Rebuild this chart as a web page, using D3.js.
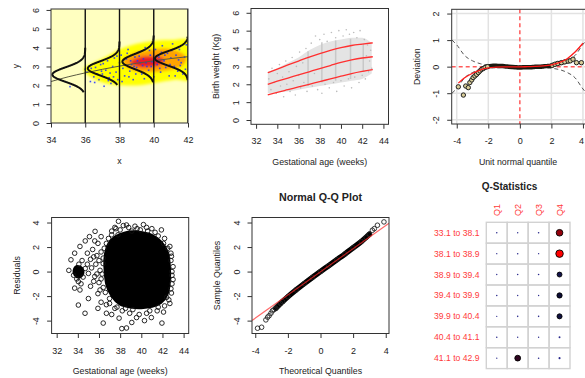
<!DOCTYPE html>
<html>
<head>
<meta charset="utf-8">
<script src="https://cdn.jsdelivr.net/npm/d3@7"></script>
<style>
  body { margin: 0; background: #fff; }
  text { font-family: "Liberation Sans", Arial, sans-serif; }
</style>
</head>
<body>
<svg id="chart" width="585" height="378"></svg>
<script>
// ---------- panel 1: conditional densities over the heat cloud
const p1Points = [[35.11,1.93],[36.0,2.85],[36.1,2.7],[36.3,2.2],[36.5,2.45],[36.6,2.95],[36.8,2.3],[36.9,3.1],
  [37.0,2.6],[37.1,1.95],[37.2,2.8],[37.3,3.3],[37.4,2.4],[37.5,2.1],[37.6,3.0],[37.7,3.45],[37.8,2.7],[37.9,2.3],
  [38.0,3.2],[38.1,3.6],[38.2,2.9],[38.3,2.5],[38.4,3.4],[38.5,3.9],[38.6,2.75],[38.7,3.1],[38.8,2.3],[38.9,3.5],
  [39.0,2.95],[39.1,3.75],[39.2,3.2],[39.3,2.6],[39.4,3.4],[39.5,4.0],[39.6,3.0],[39.7,2.8],[39.8,3.6],[39.9,3.25],
  [40.0,2.45],[40.1,3.9],[40.2,3.1],[40.3,3.5],[40.4,2.7],[40.5,4.1],[40.6,3.3],[40.7,2.95],[40.8,3.7],[40.9,2.5],
  [41.0,3.45],[41.1,4.2],[41.2,3.0],[41.3,3.6],[41.4,2.75],[41.5,3.9],[41.6,3.2],[41.7,2.6],[41.8,3.5],[41.9,4.15],
  [39.05,3.3],[39.35,3.05],[38.25,3.35],[37.45,2.65],[36.7,2.6],[38.55,2.45],[40.45,3.75],[41.45,3.35],[39.85,3.0],
  [36.35,2.9],[36.55,2.15],[37.05,3.15],[37.35,2.25],[37.85,3.55],[38.15,2.2],[38.45,3.7],[38.95,2.6],[39.15,3.55],
  [39.45,2.35],[39.75,3.85],[40.05,3.4],[40.35,2.9],[40.65,3.6],[40.95,3.1],[41.25,2.5],[41.55,3.05],[41.85,2.85],
  [39.55,3.2],[38.85,3.0],[40.25,3.25],[37.65,2.45],[36.95,2.75],[38.65,3.3],[41.05,3.85]];
const p1CloudYellow = [[35.9,2.85],[36.4,3.15],[37.1,3.45],[38.0,3.9],[39.0,4.2],[40.0,4.35],[41.0,4.4],[42.2,4.3],
  [42.3,2.4],[41.2,2.3],[40.2,2.15],[39.2,2.0],[38.2,2.0],[37.2,2.1],[36.4,2.4]];
const p1CloudOrange = [[38.2,3.3],[38.7,3.65],[39.5,3.85],[40.5,3.95],[41.3,3.85],[41.9,3.5],[41.6,3.0],[40.5,2.75],[39.3,2.7],[38.5,2.9]];
const p1CloudRed = [[38.6,3.2],[39.2,3.5],[40.0,3.55],[40.6,3.4],[40.3,3.05],[39.3,2.95]];
const p1MeanX = [34, 35, 36, 37, 38, 39, 40, 41, 42];
const p1MeanY = [2.2, 2.45, 2.66, 2.85, 3.02, 3.17, 3.3, 3.42, 3.52];
const densBase = [36, 38, 40, 42];
const densPeakX = [34.08, 36.15, 38.17, 40.07];
const densMu = [2.57, 2.9, 3.26, 3.43];
const densSd = [0.38, 0.38, 0.4, 0.38];
const densTop = [4.0, 4.32, 4.64, 4.58];
const densBottom = [1.63, 2.02, 2.16, 2.28];

// ---------- panel 2: birth weight centiles
const centX = [33.1, 34, 35, 36, 37, 38, 39, 40, 41, 42, 43];
const centUpper = [2.65, 2.85, 3.08, 3.3, 3.52, 3.72, 3.9, 4.05, 4.17, 4.25, 4.32];
const centMiddle = [2.0, 2.17, 2.35, 2.52, 2.7, 2.88, 3.05, 3.22, 3.36, 3.47, 3.54];
const centLower = [1.4, 1.55, 1.7, 1.85, 2.0, 2.15, 2.3, 2.45, 2.6, 2.72, 2.82];
const cloudX = [33.1, 34, 35, 36, 37, 38, 39, 40, 41, 42, 42.9];
const cloudLo = [1.5, 1.55, 1.6, 1.7, 1.8, 1.9, 2.0, 2.1, 2.2, 2.3, 2.6];
const cloudHi = [2.7, 2.9, 3.2, 3.5, 3.9, 4.2, 4.4, 4.5, 4.6, 4.6, 4.3];
const stripeWeeks = [36.9, 38.2, 39.5, 40.9, 42.1];
const p2Points = [[33.2,2.3],[33.4,1.7],[33.5,2.9],[33.7,2.1],[33.9,1.5],[34.0,2.6],[34.2,3.1],[34.3,1.9],[34.5,2.4],
  [34.6,1.3],[34.8,3.3],[34.9,2.0],[35.1,2.7],[35.2,1.6],[35.4,3.5],[35.5,2.2],[35.7,1.4],[35.8,3.0],[36.0,2.5],
  [36.1,3.8],[36.2,1.8],[36.4,3.2],[36.5,2.1],[36.7,4.0],[36.8,1.6],[37.0,3.5],[37.2,4.3],[37.3,1.9],[37.5,2.6],
  [37.6,4.7],[37.8,1.7],[38.0,4.5],[38.2,1.5],[38.4,4.8],[38.5,2.0],[38.7,4.4],[38.9,1.8],[39.1,4.9],[39.3,2.1],
  [39.5,4.6],[39.6,1.6],[39.8,5.0],[40.0,2.2],[40.2,4.7],[40.3,1.9],[40.5,5.05],[40.7,2.3],[40.8,4.8],[41.0,1.8],
  [41.2,4.9],[41.3,2.4],[41.5,4.6],[41.7,2.1],[41.8,5.0],[42.0,2.5],[42.2,4.5],[42.3,2.3],[42.5,4.2],[42.6,2.7],
  [42.8,3.9],[42.9,2.9],[42.7,3.3],[42.4,3.6]];

// ---------- panel 3: worm plot
const wormX = [-3.9,-3.58,-3.43,-3.27,-3.17,-3.05,-2.96,-2.85,-2.74,-2.63,-2.53,-2.42,-2.32,-2.2,-2.05,-1.9,-1.7,-1.5,
  -1.3,-1.1,-0.9,-0.7,-0.5,-0.3,-0.1,0.1,0.3,0.5,0.7,0.9,1.1,1.3,1.5,1.7,1.9,2.05,2.22,2.4,2.64,2.85,3.06,3.2,3.37,3.59,3.9];
const wormY = [-0.76,-1.07,-0.73,-0.79,-0.6,-0.5,-0.41,-0.35,-0.29,-0.22,-0.16,-0.1,-0.07,-0.03,0.0,0.02,0.03,0.03,
  0.02,0.02,0.01,0.0,-0.01,-0.02,-0.03,-0.03,-0.02,-0.02,-0.02,-0.01,0.0,0.0,0.01,0.02,0.03,0.05,0.09,0.12,0.15,0.18,0.21,0.22,0.28,0.15,0.15];
const bandX = [-4.3, -4, -3.5, -3, -2.5, -2, -1.5, -1, 0, 1, 1.5, 2, 2.5, 3, 3.5, 4, 4.3];
const bandY = [1.0, 0.82, 0.42, 0.22, 0.11, 0.06, 0.04, 0.03, 0.025, 0.03, 0.04, 0.06, 0.11, 0.22, 0.42, 0.84, 1.05];
const fitX = [-3.9,-3.5,-3,-2.5,-2,-1.5,-1,-0.5,0,0.5,1,1.5,2,2.5,3,3.5,4];
const fitY = [-0.62,-0.42,-0.25,-0.12,-0.05,-0.02,-0.01,-0.01,-0.01,0,0.01,0.03,0.07,0.15,0.3,0.55,0.88];

// ---------- panel 4: residuals vs gestational age
const residBlob = [[36.6,0.5],[36.7,1.6],[37.0,2.3],[37.6,2.8],[38.4,3.1],[39.3,3.2],[40.2,3.1],[41.0,2.9],[41.8,2.4],
  [42.4,1.6],[42.6,0.5],[42.6,-0.8],[42.4,-1.8],[41.8,-2.5],[41.0,-2.8],[40.0,-2.9],[39.0,-2.85],[38.0,-2.6],[37.3,-2.0],[36.8,-1.1]];
const residLobe = [[33.6,0.1],[33.9,0.45],[34.4,0.3],[34.5,-0.2],[34.1,-0.5],[33.7,-0.3]];
const residPoints = [[37.84,4.1],[38.3,3.75],[38.6,3.8],[40.2,3.83],[39.6,3.5],[37.6,3.5],[35.63,3.28],[35.1,2.85],
  [34.7,2.5],[34.2,2.05],[33.7,1.5],[33.35,0.96],[33.15,0.1],[33.6,-0.3],[34.05,-0.82],[33.7,-1.35],[34.2,-1.5],
  [35.0,-2.2],[34.05,-2.73],[34.68,-3.4],[36.4,-4.2],[36.7,-3.4],[37.2,-3.5],[37.9,-3.8],[38.16,-4.65],[38.6,-4.6],
  [39.1,-4.15],[39.55,-3.75],[40.3,-4.0],[40.95,-3.75],[41.95,-4.2],[42.1,-3.3],[42.7,-2.6],[42.85,-1.75],[43.0,-0.65],
  [43.0,0.4],[42.85,1.25],[42.7,2.05],[41.9,3.4],[41.0,3.5],[36.2,2.85],[35.9,2.3],[35.4,1.8],[35.2,1.0],[35.6,-0.4],
  [35.2,-1.2],[35.9,-1.8],[36.2,-2.5],[35.9,-3.0],[36.7,-2.7],[37.5,-3.0],[39.2,-3.1],[41.6,-2.9],[42.4,-2.1],
  [34.7,0.25],[34.5,-0.45],[35.0,-0.15],[36.4,0.65],[36.2,1.6],[36.7,2.3],[37.2,3.0],[39.1,3.3],[40.6,3.3],[42.2,2.7],
  [36.0,-0.9],[36.1,0.1],[35.7,0.6],[37.0,-2.6],[38.2,-3.2],[40.8,-3.2],[42.9,-1.0],[42.8,0.9],
  [37.2,3.3],[37.5,3.6],[38.0,3.4],[38.8,3.6],[39.4,3.7],[39.9,3.4],[40.5,3.6],[41.3,3.2],[41.6,2.9],[42.1,2.3],
  [42.5,1.9],[42.8,1.5],[42.9,0.0],[42.9,-0.3],[42.8,-1.4],[42.6,-2.3],[42.2,-2.8],[41.5,-3.2],[40.5,-3.4],[39.8,-3.5],
  [38.9,-3.4],[38.5,-3.0],[37.7,-2.9],[37.0,-2.2],[36.6,-1.7],[36.4,-1.3],[36.3,-0.2],[36.4,1.1],[36.5,1.9],[36.9,2.7],
  [37.8,3.0],[34.9,0.6],[35.3,0.3],[35.5,-0.8],[35.8,1.3],[34.4,0.9],[34.3,-1.0],[35.6,2.5],[34.9,1.5],[36.1,-1.5],
  [35.5,1.2],[36.0,0.9],[35.8,-0.2],[36.2,-0.6],[34.1,0.6],[33.9,-0.6]];

// ---------- panel 5: normal Q-Q
const qqTheo = [-3.86,-3.61,-3.35,-3.24,-3.15,-3.04,-2.95,-2.85,-2.74,-2.6,-2.45,-2.33,-2,-1.5,-1,-0.5,0,0.5,1,1.5,2,2.5,2.8,3.0,3.18,3.3,3.49,3.89];
const qqSample = [-4.62,-4.54,-3.94,-3.72,-3.6,-3.4,-3.2,-3.1,-2.99,-2.8,-2.6,-2.45,-2.05,-1.5,-0.98,-0.48,0.0,0.48,0.96,1.44,1.94,2.45,2.8,3.05,3.37,3.5,3.78,4.05];
const qqLineEnds = [[-4.2, -3.99], [4.2, 3.95]];

// ---------- panel 6: Q statistics
const qCols = ["Q1", "Q2", "Q3", "Q4"];
const qRows = ["33.1 to 38.1", "38.1 to 38.9", "38.9 to 39.4", "39.4 to 39.9", "39.9 to 40.4", "40.4 to 41.1", "41.1 to 42.9"];
const qStats = [
  [0.2, 0.1, 0.2, 3.1],
  [0.1, 0.2, 0.1, 3.6],
  [0.1, 0.2, 0.2, 2.1],
  [0.2, 0.1, 0.1, 2.3],
  [0.1, 0.2, 0.2, 2.2],
  [0.2, 0.1, 0.1, 0.4],
  [0.1, 2.6, 0.2, 0.5]
];

const svg = d3.select("#chart");
const defs = svg.append("defs");
defs.append("filter").attr("id", "blur")
  .attr("x", "-20%").attr("y", "-20%").attr("width", "140%").attr("height", "140%")
  .append("feGaussianBlur").attr("stdDeviation", 1.6);

const FONT = "Liberation Sans, Arial, sans-serif";

function makePanel(id, box, xDom, yDom, xTicks, yTicks) {
  const x = d3.scaleLinear().domain(xDom).range([box.left, box.right]);
  const y = d3.scaleLinear().domain(yDom).range([box.bottom, box.top]);
  defs.append("clipPath").attr("id", id).append("rect")
    .attr("x", box.left).attr("y", box.top)
    .attr("width", box.right - box.left).attr("height", box.bottom - box.top);
  const root = svg.append("g");
  const plot = root.append("g").attr("clip-path", `url(#${id})`);

  const xa = root.append("g").attr("transform", `translate(0,${box.bottom})`)
    .call(d3.axisBottom(x).tickValues(xTicks).tickSize(4.5).tickFormat(d => String(d)));
  xa.selectAll("text").attr("y", 20).attr("dy", null);

  const ya = root.append("g").attr("transform", `translate(${box.left},0)`)
    .call(d3.axisLeft(y).tickValues(yTicks).tickSize(4.5).tickFormat(d => String(d)));
  ya.selectAll("text").attr("x", 0).attr("dy", null)
    .attr("transform", "rotate(-90)").attr("y", -12.5).attr("text-anchor", "middle");

  root.selectAll(".domain").remove();
  root.selectAll(".tick line").attr("stroke", "#333");
  [xa, ya].forEach(a => a.attr("font-family", FONT).attr("font-size", 9));
  root.selectAll(".tick text").attr("fill", "#222");

  root.append("rect")
    .attr("x", box.left).attr("y", box.top)
    .attr("width", box.right - box.left).attr("height", box.bottom - box.top)
    .attr("fill", "none").attr("stroke", "#333").attr("stroke-width", 1);
  return { root, plot, x, y, box, xa };
}

function xTitle(p, label, cx) {
  p.root.append("text")
    .attr("x", cx || (p.box.left + p.box.right) / 2).attr("y", p.box.bottom + 40.5)
    .attr("text-anchor", "middle").attr("font-size", 8.8).attr("fill", "#222")
    .text(label);
}
function yTitle(p, label) {
  p.root.append("text")
    .attr("transform", `translate(${p.box.left - 32},${(p.box.top + p.box.bottom) / 2}) rotate(-90)`)
    .attr("text-anchor", "middle").attr("font-size", 8.8).attr("fill", "#222")
    .text(label);
}

// ===== Panel 1
const p1 = makePanel("c1", { left: 51, right: 188, top: 9, bottom: 123 }, [34, 42], [0, 6.05],
  [34, 36, 38, 40, 42], [0, 1, 2, 3, 4, 5, 6]);
xTitle(p1, "x");
yTitle(p1, "y");

p1.plot.append("rect")
  .attr("x", p1.box.left).attr("y", p1.box.top)
  .attr("width", p1.box.right - p1.box.left).attr("height", p1.box.bottom - p1.box.top)
  .attr("fill", "#ffffc0");

const cloudLine1 = d3.line().x(d => p1.x(d[0])).y(d => p1.y(d[1])).curve(d3.curveCardinalClosed);
const heat = p1.plot.append("g").attr("filter", "url(#blur)");
heat.append("path").attr("d", cloudLine1(p1CloudYellow)).attr("fill", "#ffff00");
heat.append("path").attr("d", cloudLine1(p1CloudOrange)).attr("fill", "#ff8c00").attr("opacity", 0.8);
heat.append("path").attr("d", cloudLine1(p1CloudRed)).attr("fill", "#e8102a").attr("opacity", 0.9);

p1.plot.selectAll(".bluept").data(p1Points).enter().append("rect")
  .attr("x", d => p1.x(d[0]) - 0.8).attr("y", d => p1.y(d[1]) - 0.8)
  .attr("width", 1.6).attr("height", 1.6)
  .attr("fill", "#2030ff").attr("opacity", 0.85);

p1.plot.append("path")
  .datum(p1MeanX.map((v, i) => [v, p1MeanY[i]]))
  .attr("d", d3.line().x(d => p1.x(d[0])).y(d => p1.y(d[1])).curve(d3.curveMonotoneX))
  .attr("fill", "none").attr("stroke", "#5a5a40").attr("stroke-width", 1);

p1.plot.selectAll(".vline").data(densBase).enter().append("line")
  .attr("x1", d => p1.x(d)).attr("x2", d => p1.x(d))
  .attr("y1", p1.box.top).attr("y2", p1.box.bottom)
  .attr("stroke", "#111").attr("stroke-width", 1.4);

// fitted normal densities drawn sideways from each base line
densBase.forEach((b, i) => {
  const pts = d3.range(densBottom[i], densTop[i] + 0.001, 0.02).map(yv => {
    const z = (yv - densMu[i]) / densSd[i];
    return [b - (b - densPeakX[i]) * Math.exp(-0.5 * z * z), yv];
  });
  p1.plot.append("path")
    .attr("d", d3.line().x(d => p1.x(d[0])).y(d => p1.y(d[1]))(pts))
    .attr("fill", "none").attr("stroke", "#111").attr("stroke-width", 2);
});

// ===== Panel 2
const p2 = makePanel("c2", { left: 251, right: 388.5, top: 8.5, bottom: 124.3 }, [31.52, 44.48], [-0.24, 6.24],
  [32, 34, 36, 38, 40, 42, 44], [0, 1, 2, 3, 4, 5, 6]);
xTitle(p2, "Gestational age (weeks)");
yTitle(p2, "Birth weight (Kg)");

p2.plot.append("path")
  .datum(cloudX.map((v, i) => [v, cloudLo[i], cloudHi[i]]))
  .attr("d", d3.area().x(d => p2.x(d[0])).y0(d => p2.y(d[1])).y1(d => p2.y(d[2])).curve(d3.curveMonotoneX))
  .attr("fill", "#e4e4e4");

const cloudAt = w => {
  const i = Math.min(d3.bisectLeft(cloudX, w), cloudX.length - 1);
  return [cloudLo[i], cloudHi[i]];
};
p2.plot.selectAll(".stripe").data(stripeWeeks).enter().append("line")
  .attr("x1", d => p2.x(d)).attr("x2", d => p2.x(d))
  .attr("y1", d => p2.y(cloudAt(d)[0] + 0.1)).attr("y2", d => p2.y(cloudAt(d)[1] - 0.05))
  .attr("stroke", "#c8c8c8").attr("stroke-width", 1.5);

p2.plot.selectAll(".greypt").data(p2Points).enter().append("circle")
  .attr("cx", d => p2.x(d[0])).attr("cy", d => p2.y(d[1])).attr("r", 0.8)
  .attr("fill", "#bdbdbd");

const centLine = d3.line().x(d => p2.x(d[0])).y(d => p2.y(d[1])).curve(d3.curveMonotoneX);
[centUpper, centMiddle, centLower].forEach(series => {
  p2.plot.append("path")
    .attr("d", centLine(centX.map((v, i) => [v, series[i]])))
    .attr("fill", "none").attr("stroke", "#ff3030").attr("stroke-width", 1.3);
});

// ===== Panel 3
const p3 = makePanel("c3", { left: 451.7, right: 588, top: 9.3, bottom: 124 }, [-4.32, 4.32], [-2.16, 2.16],
  [-4, -2, 0, 2, 4], [-2, -1, 0, 1, 2]);
xTitle(p3, "Unit normal quantile", 518);
yTitle(p3, "Deviation");
p3.xa.selectAll(".tick text").filter(d => d === 4).attr("x", -2);

p3.plot.selectAll(".gx").data([-4, -2, 2, 4]).enter().append("line")
  .attr("x1", d => p3.x(d)).attr("x2", d => p3.x(d)).attr("y1", p3.box.top).attr("y2", p3.box.bottom)
  .attr("stroke", "#e2e2e2").attr("stroke-width", 1.5);
p3.plot.selectAll(".gy").data([-2, -1, 1, 2]).enter().append("line")
  .attr("y1", d => p3.y(d)).attr("y2", d => p3.y(d)).attr("x1", p3.box.left).attr("x2", p3.box.right)
  .attr("stroke", "#e2e2e2").attr("stroke-width", 1.5);
p3.plot.append("line")
  .attr("x1", p3.x(0)).attr("x2", p3.x(0)).attr("y1", p3.box.top).attr("y2", p3.box.bottom)
  .attr("stroke", "#ff5a5a").attr("stroke-width", 1.5).attr("stroke-dasharray", "4,3");
p3.plot.append("line")
  .attr("y1", p3.y(0)).attr("y2", p3.y(0)).attr("x1", p3.box.left).attr("x2", p3.box.right)
  .attr("stroke", "#ff5a5a").attr("stroke-width", 1.5).attr("stroke-dasharray", "4,3");

const bandLine = d3.line().x(d => p3.x(d[0])).y(d => p3.y(d[1])).curve(d3.curveMonotoneX);
[1, -1].forEach(sgn => {
  p3.plot.append("path")
    .attr("d", bandLine(bandX.map((v, i) => [v, sgn * bandY[i]])))
    .attr("fill", "none").attr("stroke", "#555").attr("stroke-width", 1).attr("stroke-dasharray", "4,3");
});

const wormPts = wormX.map((v, i) => [v, wormY[i]]);
// overlapping points in the body of the worm merge into a dark band
p3.plot.append("path")
  .attr("d", d3.line().x(d => p3.x(d[0])).y(d => p3.y(d[1])).curve(d3.curveMonotoneX)(wormPts.filter(d => d[0] > -2.9 && d[0] < 3.3)))
  .attr("fill", "none").attr("stroke", "#1a1a10").attr("stroke-width", 4.5).attr("stroke-linecap", "round");
p3.plot.selectAll(".worm").data(wormPts.filter(d => Math.abs(d[0]) > 1.9)).enter().append("circle")
  .attr("cx", d => p3.x(d[0])).attr("cy", d => p3.y(d[1])).attr("r", 2.2)
  .attr("fill", "#d8cc98").attr("stroke", "#222").attr("stroke-width", 1);

p3.plot.append("path")
  .attr("d", d3.line().x(d => p3.x(d[0])).y(d => p3.y(d[1])).curve(d3.curveMonotoneX)(fitX.map((v, i) => [v, fitY[i]])))
  .attr("fill", "none").attr("stroke", "#ff1a1a").attr("stroke-width", 1.3);

// ===== Panel 4
const p4 = makePanel("c4", { left: 51.6, right: 188.7, top: 217.5, bottom: 333.5 }, [31.52, 44.48], [-5.05, 4.41],
  [32, 34, 36, 38, 40, 42, 44], [-4, -2, 0, 2, 4]);
xTitle(p4, "Gestational age (weeks)");
yTitle(p4, "Residuals");

const blobLine = d3.line().x(d => p4.x(d[0])).y(d => p4.y(d[1])).curve(d3.curveCardinalClosed);
p4.plot.append("path").attr("d", blobLine(residBlob))
  .attr("fill", "#000").attr("stroke", "#000").attr("stroke-width", 4).attr("stroke-linejoin", "round");
p4.plot.append("path").attr("d", blobLine(residLobe))
  .attr("fill", "#000").attr("stroke", "#000").attr("stroke-width", 2);
p4.plot.selectAll(".res").data(residPoints).enter().append("circle")
  .attr("cx", d => p4.x(d[0])).attr("cy", d => p4.y(d[1])).attr("r", 2.3)
  .attr("fill", "none").attr("stroke", "#111").attr("stroke-width", 0.9);

// ===== Panel 5
const p5 = makePanel("c5", { left: 252, right: 389, top: 217.5, bottom: 333.5 }, [-4.2, 4.2], [-5.05, 4.41],
  [-4, -2, 0, 2, 4], [-4, -2, 0, 2, 4]);
xTitle(p5, "Theoretical Quantiles");
yTitle(p5, "Sample Quantiles");
p5.root.append("text")
  .attr("x", (p5.box.left + p5.box.right) / 2).attr("y", 200.5)
  .attr("text-anchor", "middle").attr("font-size", 10.7).attr("font-weight", "bold").attr("fill", "#222")
  .text("Normal Q-Q Plot");

const qqPts = qqTheo.map((v, i) => [v, qqSample[i]]);
const qqDense = qqPts.filter(d => d[0] >= -2.74 && d[0] <= 3.0);
p5.plot.append("path")
  .attr("d", d3.line().x(d => p5.x(d[0])).y(d => p5.y(d[1])).curve(d3.curveMonotoneX)(qqDense))
  .attr("fill", "none").attr("stroke", "#000").attr("stroke-width", 5.5).attr("stroke-linecap", "round");
p5.plot.selectAll(".qq").data(qqPts).enter().append("circle")
  .attr("cx", d => p5.x(d[0])).attr("cy", d => p5.y(d[1])).attr("r", 2.3)
  .attr("fill", "none").attr("stroke", "#222").attr("stroke-width", 0.9);
p5.plot.append("line")
  .attr("x1", p5.x(qqLineEnds[0][0])).attr("y1", p5.y(qqLineEnds[0][1]))
  .attr("x2", p5.x(qqLineEnds[1][0])).attr("y2", p5.y(qqLineEnds[1][1]))
  .attr("stroke", "#ff2a2a").attr("stroke-width", 1.2).attr("opacity", 0.7);

// ===== Panel 6
const qg = svg.append("g");
const qx = d3.scaleBand().domain(qCols).range([486.3, 570]);
const qy = d3.scaleBand().domain(qRows).range([222.3, 368.6]);
qg.append("text")
  .attr("x", 509.5).attr("y", 190.3).attr("text-anchor", "middle")
  .attr("font-size", 10).attr("font-weight", "bold").attr("fill", "#222")
  .text("Q-Statistics");
qCols.forEach(c => {
  qg.append("text")
    .attr("transform", `translate(${qx(c) + qx.bandwidth() / 2},210) rotate(-90)`)
    .attr("dy", "0.35em").attr("text-anchor", "middle")
    .attr("font-size", 9).attr("fill", "#ff3a3a").text(c);
});
qRows.forEach(r => {
  qg.append("text")
    .attr("x", 479.5).attr("y", qy(r) + qy.bandwidth() / 2).attr("dy", "0.35em")
    .attr("text-anchor", "end").attr("font-size", 8.6).attr("fill", "#ff3a3a").text(r);
  qCols.forEach(c => {
    qg.append("rect")
      .attr("x", qx(c)).attr("y", qy(r)).attr("width", qx.bandwidth()).attr("height", qy.bandwidth())
      .attr("fill", "none").attr("stroke", "#d2d2d2").attr("stroke-width", 1.4);
  });
});
const qSize = d3.scaleLinear().domain([0, 4]).range([0.6, 4.1]);
const qColor = d3.scaleLinear().domain([1.5, 2.4, 2.9, 3.6]).range(["#2a2a8c", "#08082a", "#6a0010", "#ff0000"]).clamp(true);
qStats.forEach((row, i) => {
  row.forEach((v, j) => {
    qg.append("circle")
      .attr("cx", qx(qCols[j]) + qx.bandwidth() / 2).attr("cy", qy(qRows[i]) + qy.bandwidth() / 2)
      .attr("r", qSize(Math.abs(v)))
      .attr("fill", qColor(Math.abs(v)))
      .attr("stroke", Math.abs(v) > 1 ? "#000" : "none").attr("stroke-width", 0.9);
  });
});
</script>
</body>
</html>
